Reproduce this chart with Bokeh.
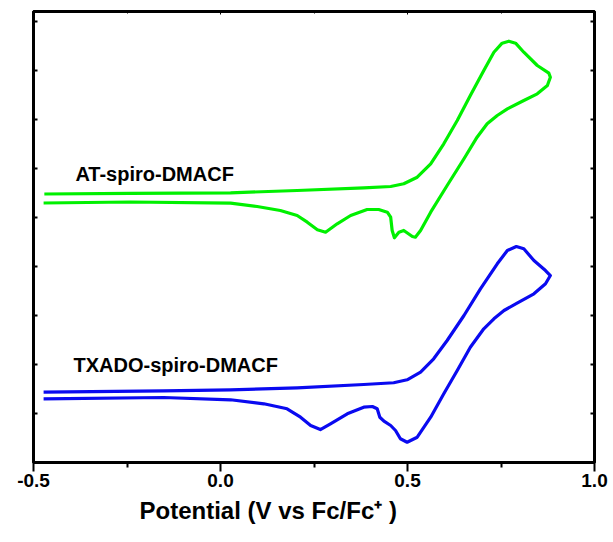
from bokeh.plotting import figure
from bokeh.models import (Range1d, FixedTicker, LinearAxis, Label, NumeralTickFormatter,
                          CustomLabelingPolicy, Title)
from bokeh.embed import file_html
from bokeh.resources import INLINE

# ---- data (potential V vs Fc/Fc+, current in arbitrary offset units) ----
at_v = [-0.471, -0.241, 0.027, 0.205, 0.383, 0.455, 0.490, 0.526, 0.562, 0.597, 0.633, 0.668,
        0.704, 0.731, 0.753, 0.771, 0.789, 0.811, 0.847, 0.878, 0.882,
        0.874, 0.847, 0.811, 0.767, 0.740, 0.713, 0.686, 0.651, 0.606, 0.562, 0.535, 0.521,
        0.513, 0.490, 0.477, 0.465, 0.459, 0.455, 0.446, 0.423, 0.392, 0.348, 0.312, 0.281,
        0.259, 0.232, 0.205, 0.160, 0.098, 0.027, -0.241, -0.473]
at_i = [5.480, 5.494, 5.504, 5.551, 5.606, 5.633, 5.688, 5.822, 6.096, 6.504, 6.980, 7.490,
        8.000, 8.373, 8.557, 8.598, 8.557, 8.373, 8.102, 7.945, 7.863,
        7.694, 7.524, 7.388, 7.218, 7.082, 6.912, 6.639, 6.198, 5.653, 5.108, 4.735, 4.598,
        4.612, 4.735, 4.700, 4.586, 4.735, 5.006, 5.108, 5.163, 5.163, 5.041, 4.871, 4.700,
        4.749, 4.904, 5.041, 5.143, 5.224, 5.292, 5.316, 5.296]

tx_v = [-0.473, -0.152, 0.027, 0.205, 0.383, 0.463, 0.499, 0.535, 0.570, 0.606, 0.651, 0.695,
        0.740, 0.767, 0.791, 0.811, 0.838, 0.869, 0.882,
        0.869, 0.838, 0.793, 0.758, 0.731, 0.704, 0.668, 0.633, 0.597, 0.562, 0.526, 0.499,
        0.481, 0.468, 0.455, 0.437, 0.426, 0.419, 0.406, 0.383, 0.339, 0.294, 0.267, 0.241,
        0.214, 0.178, 0.116, 0.027, -0.152, -0.473]
tx_i = [1.435, 1.463, 1.484, 1.524, 1.592, 1.627, 1.688, 1.843, 2.116, 2.490, 3.000, 3.545,
        4.055, 4.327, 4.408, 4.361, 4.122, 3.918, 3.816,
        3.647, 3.443, 3.251, 3.102, 2.933, 2.729, 2.353, 1.878, 1.402, 0.924, 0.516, 0.414,
        0.484, 0.653, 0.755, 0.843, 0.924, 1.096, 1.143, 1.129, 0.994, 0.790, 0.673, 0.755,
        0.924, 1.096, 1.198, 1.280, 1.327, 1.300]

series_names = ["AT-spiro-DMACF", "TXADO-spiro-DMACF"]
series_colors = ["#00F000", "#0A0AF0"]
label_x = [-0.388, -0.393]
label_y = [5.88, 1.98]

x_major = [-0.5, 0.0, 0.5, 1.0]
x_minor = [-0.25, 0.25, 0.75]
y_ticks = [0, 1, 2, 3, 4, 5, 6, 7, 8, 9]

x_title = "Potential (V vs Fc/Fc\u207a )"

FONT = "Liberation Sans"

p = figure(frame_width=561, frame_height=451, output_backend="svg", toolbar_location=None,
           x_range=Range1d(-0.5, 1.0), y_range=Range1d(0, 9.204),
           min_border_left=33, min_border_right=16, min_border_top=11, min_border_bottom=78,
           background_fill_color="white", border_fill_color="white")
p.grid.visible = False
p.outline_line_color = "black"
p.outline_line_width = 3

p.line(at_v, at_i, line_color=series_colors[0], line_width=3.2, line_join="round")
p.line(tx_v, tx_i, line_color=series_colors[1], line_width=3.2, line_join="round")

for name, lx, ly in zip(series_names, label_x, label_y):
    p.add_layout(Label(x=lx, y=ly, text=name, text_font=FONT, text_font_style="bold",
                       text_font_size="20px", text_color="black",
                       text_baseline="alphabetic"))

hide = CustomLabelingPolicy(code="for (const i of indices) { indices.unset(i) }\nreturn indices")

# bottom axis
xa = p.xaxis[0]
xa.ticker = FixedTicker(ticks=x_major, minor_ticks=x_minor)
xa.formatter = NumeralTickFormatter(format="0.0")
xa.axis_line_width = 3
xa.major_tick_line_width = 2
xa.minor_tick_line_width = 2
xa.major_tick_in = 0
xa.major_tick_out = 9
xa.minor_tick_in = 0
xa.minor_tick_out = 5
xa.major_label_standoff = 2
xa.major_label_text_font = FONT
xa.major_label_text_font_style = "bold"
xa.major_label_text_font_size = "19px"
xa.major_label_text_color = "black"

# x axis title, placed as a left-aligned title below the axis (offset as in the reference)
p.add_layout(Title(text=x_title, align="left", offset=106, standoff=10,
                   text_font=FONT, text_font_style="bold", text_font_size="24px",
                   text_color="black"), "below")

# left axis
ya = p.yaxis[0]
ya.ticker = FixedTicker(ticks=y_ticks, minor_ticks=[])
ya.axis_line_width = 3
ya.major_tick_line_width = 2
ya.major_tick_in = 4
ya.major_tick_out = 0
ya.minor_tick_out = 0
ya.minor_tick_in = 0
ya.major_label_policy = hide
ya.major_label_standoff = 0

# right axis
ra = LinearAxis(ticker=FixedTicker(ticks=y_ticks, minor_ticks=[]), axis_line_width=3,
                major_tick_line_width=2, major_tick_in=4, major_tick_out=0,
                minor_tick_in=0, minor_tick_out=0,
                major_label_policy=hide, major_label_standoff=0)
p.add_layout(ra, "right")

# top axis
ta = LinearAxis(ticker=FixedTicker(ticks=x_major, minor_ticks=x_minor), axis_line_width=3,
                major_tick_line_width=1, major_tick_in=3, major_tick_out=0,
                minor_tick_line_width=1, minor_tick_in=2, minor_tick_out=0,
                major_label_policy=hide, major_label_standoff=0)
p.add_layout(ta, "above")

open("out.html", "w").write(file_html(p, INLINE))
